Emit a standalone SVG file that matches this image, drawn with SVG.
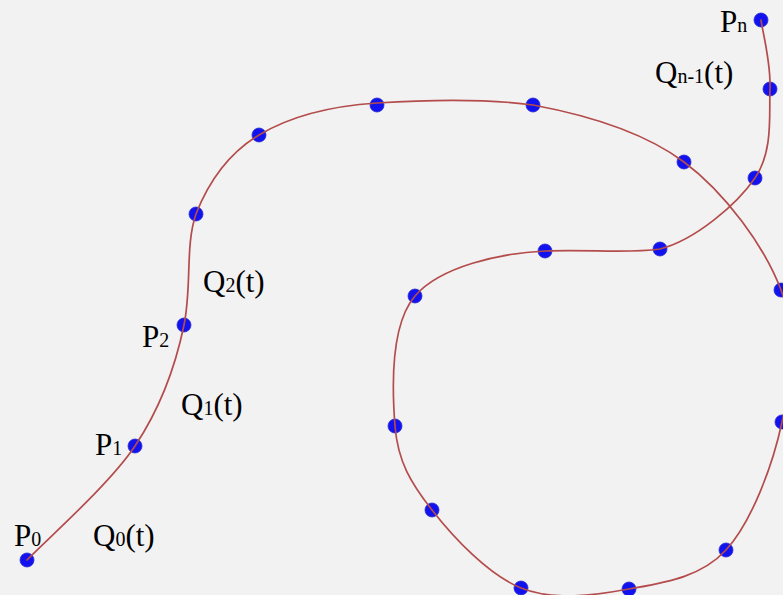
<svg xmlns="http://www.w3.org/2000/svg" width="783" height="595" viewBox="0 0 783 595">
<style>
.pt{fill:#1212ee;stroke:#2a2ad0;stroke-width:0.8}
.crv{fill:none;stroke:#b44c4c;stroke-width:1.7;stroke-linejoin:round;stroke-linecap:round}
.lbl{font-family:"Liberation Serif","Times New Roman",serif;font-size:31px;fill:#000}
.sub{font-size:20px}
</style>
<rect width="783" height="595" fill="#f2f2f2"/>
<g id="points">
<g id="p0"><circle class="pt" cx="27" cy="560" r="7"/></g>
<g id="p1"><circle class="pt" cx="135" cy="446" r="7"/></g>
<g id="p2"><circle class="pt" cx="184" cy="325" r="7"/></g>
<g id="p3"><circle class="pt" cx="196" cy="214" r="7"/></g>
<g id="p4"><circle class="pt" cx="259" cy="135" r="7"/></g>
<g id="p5"><circle class="pt" cx="377" cy="105" r="7"/></g>
<g id="p6"><circle class="pt" cx="533" cy="105" r="7"/></g>
<g id="p7"><circle class="pt" cx="684" cy="162" r="7"/></g>
<g id="p8"><circle class="pt" cx="781" cy="290" r="7"/></g>
<g id="p9"><circle class="pt" cx="782" cy="422" r="7"/></g>
<g id="p10"><circle class="pt" cx="726" cy="550" r="7"/></g>
<g id="p11"><circle class="pt" cx="629" cy="589" r="7"/></g>
<g id="p12"><circle class="pt" cx="521" cy="588" r="7"/></g>
<g id="p13"><circle class="pt" cx="432" cy="510" r="7"/></g>
<g id="p14"><circle class="pt" cx="395" cy="426" r="7"/></g>
<g id="p15"><circle class="pt" cx="415" cy="296" r="7"/></g>
<g id="p16"><circle class="pt" cx="545" cy="251" r="7"/></g>
<g id="p17"><circle class="pt" cx="660" cy="249" r="7"/></g>
<g id="p18"><circle class="pt" cx="755" cy="178" r="7"/></g>
<g id="p19"><circle class="pt" cx="770" cy="89" r="7"/></g>
<g id="pn"><circle class="pt" cx="761" cy="20" r="7"/></g>
</g>
<g id="connectors">
<path class="crv" d="M27,560 C45,541 108.8,485.2 135,446 C161.2,406.8 176,363.7 184,325 C192,286.3 185,245.7 196,214 C208.5,182.3 228.8,153.2 259,135 C289.2,116.8 331.3,106 377,103 C422.7,100 481.8,98 533,105 C584.2,114.5 642.7,131.2 684,162 C725.3,192.8 764.7,246.7 781,290 C797.3,333.3 791.2,378.7 782,422 C772.8,465.3 751.5,522.2 726,550 C700.5,577.8 663.2,582.7 629,589 C594.8,595.3 553.8,601.2 521,588 C488.2,574.8 453,537 432,510 C411,483 397.8,461.7 395,426 C392.2,390.3 390,325.2 415,296 C440,266.8 500,253 545,251 C590,249 625,254 660,249 C695,240 736.7,204.7 755,178 C773.3,151.3 769,115.3 770,89 C771,62.7 762.5,31.5 761,20"/>
</g>
<g id="labels">
<g id="lbl-p0"><text class="lbl" x="14" y="546">P<tspan class="sub">0</tspan></text></g>
<g id="lbl-q0"><text class="lbl" x="93" y="546">Q<tspan class="sub">0</tspan>(t)</text></g>
<g id="lbl-p1"><text class="lbl" x="95" y="455">P<tspan class="sub">1</tspan></text></g>
<g id="lbl-q1"><text class="lbl" x="181" y="415">Q<tspan class="sub">1</tspan>(t)</text></g>
<g id="lbl-p2"><text class="lbl" x="142" y="347">P<tspan class="sub">2</tspan></text></g>
<g id="lbl-q2"><text class="lbl" x="203" y="292">Q<tspan class="sub">2</tspan>(t)</text></g>
<g id="lbl-pn"><text class="lbl" x="720" y="32">P<tspan class="sub">n</tspan></text></g>
<g id="lbl-qn1"><text class="lbl" x="655" y="83">Q<tspan class="sub">n-1</tspan>(t)</text></g>
</g>
</svg>
